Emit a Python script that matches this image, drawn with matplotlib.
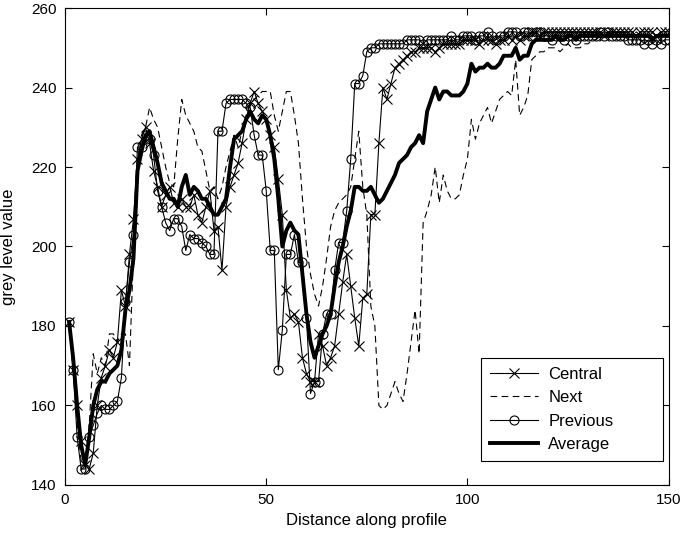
import matplotlib.pyplot as plt
import numpy as np

plt.rcParams['font.family'] = ['Liberation Sans', 'DejaVu Sans']

# distance along profile (pixels)
distance = np.arange(1, 151)

central = [
    181, 169, 160, 151, 145, 144, 148, 160, 167, 170,
    174, 172, 176, 189, 185, 198, 207, 222, 227, 230,
    226, 219, 215, 210, 213, 215, 211, 210, 212, 210,
    210, 213, 208, 206, 210, 214, 204, 205, 194, 210,
    215, 218, 221, 226, 232, 236, 239, 236, 234, 232,
    228, 225, 217, 208, 189, 182, 183, 181, 172, 168,
    166, 166, 178, 175, 170, 172, 175, 183, 191, 198,
    190, 182, 175, 187, 188, 208, 208, 226, 240, 237,
    241, 245, 246, 247, 248, 249, 249, 250, 250, 250,
    250, 249, 250, 251, 251, 251, 251, 251, 252, 252,
    252, 252, 251, 252, 252, 252, 251, 252, 252, 253,
    252, 253, 252, 253, 253, 254, 254, 253, 254, 254,
    254, 254, 254, 254, 254, 254, 254, 254, 254, 254,
    254, 254, 254, 253, 254, 254, 254, 254, 254, 254,
    254, 253, 254, 254, 254, 254, 253, 254, 254, 254,
]

next_line = [
    181, 170, 155, 146, 145, 155, 173, 168, 172, 170,
    178, 178, 176, 178, 178, 170, 198, 220, 228, 230,
    235, 232, 230, 225, 220, 216, 215, 227, 237, 233,
    231, 229, 225, 224, 219, 214, 215, 212, 215, 220,
    224, 228, 225, 229, 233, 236, 237, 238, 239, 239,
    239, 233, 229, 234, 239, 239, 233, 226, 212, 200,
    193, 188, 185, 190, 197, 205, 209, 211, 212, 213,
    215, 222, 229, 215, 208, 185, 180, 160, 159, 160,
    163, 166, 163, 161, 168, 176, 184, 173, 206, 209,
    213, 220, 211, 218, 214, 212, 212, 213, 218, 222,
    232, 227, 231, 233, 235, 231, 234, 237, 238, 239,
    238, 247, 233, 235, 238, 247, 248, 249, 249, 250,
    250, 250, 249, 250, 251, 250, 250, 250, 251, 251,
    252, 252, 253, 253, 253, 253, 253, 253, 253, 253,
    253, 254, 253, 253, 253, 253, 253, 253, 253, 253,
]

previous = [
    181, 169, 152, 144, 144, 152, 155, 158, 160, 159,
    159, 160, 161, 167, 186, 196, 203, 225, 225, 228,
    227, 223, 214, 210, 206, 204, 207, 207, 205, 199,
    203, 202, 202, 201, 200, 198, 198, 229, 229, 236,
    237, 237, 237, 237, 236, 235, 228, 223, 223, 214,
    199, 199, 169, 179, 198, 198, 203, 196, 196, 182,
    163, 166, 166, 178, 183, 183, 194, 201, 201, 209,
    222, 241, 241, 243, 249, 250, 250, 251, 251, 251,
    251, 251, 251, 251, 252, 252, 252, 252, 251, 252,
    252, 252, 252, 252, 252, 253, 252, 252, 253, 253,
    253, 252, 253, 253, 254, 253, 252, 253, 253, 254,
    254, 254, 253, 254, 254, 253, 254, 254, 253, 253,
    252, 253, 253, 252, 253, 253, 252, 253, 253, 253,
    253, 253, 254, 253, 254, 253, 253, 253, 253, 252,
    252, 252, 252, 251, 252, 251, 252, 251, 252, 252,
]

average = [
    181, 172, 160, 150, 145, 152, 160, 164, 166, 166,
    168, 169, 170, 174, 184, 189, 197, 219, 224, 228,
    229, 225, 221, 216, 214, 212, 212, 210, 215, 218,
    213, 215, 214, 212, 212, 210, 208, 208, 210, 212,
    220, 227, 228, 229, 232, 234, 232, 231, 233, 232,
    228, 222, 212, 200, 204, 206, 204, 203, 193, 183,
    176, 172, 175, 178, 180, 183, 190, 196, 200, 205,
    209, 215, 215, 214, 214, 215, 213, 211, 212, 214,
    216, 218, 221, 222, 223, 225, 226, 228, 226, 234,
    237, 240, 237, 239, 239, 238, 238, 238, 239, 241,
    246, 244, 245, 245, 246, 245, 245, 246, 248, 248,
    248, 250, 247, 248, 248, 251, 252, 252, 252, 252,
    252, 253, 252, 252, 253, 253, 252, 253, 253, 253,
    253, 253, 253, 253, 253, 253, 253, 253, 253, 253,
    253, 253, 253, 253, 253, 252, 253, 253, 253, 253,
]

fig = plt.figure(figsize=(6.85, 5.37), dpi=100)
ax = fig.add_axes([0.095, 0.097, 0.881, 0.888])

ax.plot(distance, central, color='black', linewidth=0.8, marker='x',
        markersize=6.5, markeredgewidth=0.8, label='Central')
ax.plot(distance, next_line, color='black', linewidth=0.8, linestyle=(0, (6, 4)),
        label='Next')
ax.plot(distance, previous, color='black', linewidth=0.8, marker='o',
        markersize=6.5, markerfacecolor='none', markeredgewidth=0.8, label='Previous')
ax.plot(distance, average, color='black', linewidth=2.8, label='Average')

ax.set_xlim(0, 150)
ax.set_ylim(140, 260)
ax.set_xticks([0, 50, 100, 150])
ax.set_yticks(np.arange(140, 261, 20))
ax.tick_params(direction='in', top=True, right=True, labelsize=11, length=5, pad=6)
ax.set_xlabel('Distance along profile', fontsize=12, labelpad=4)
ax.set_ylabel('grey level value', fontsize=12, labelpad=11)

# MATLAB-style legend box: fixed width in the lower right corner
leg = ax.legend(loc='lower right', bbox_to_anchor=(0.689, 0.05, 0.302, 0.22),
                mode='expand', borderaxespad=0, fontsize=12,
                handlelength=2.9, handletextpad=0.6, fancybox=False, edgecolor='black',
                framealpha=1, borderpad=0.55, labelspacing=0.5)
leg.get_frame().set_linewidth(0.8)

plt.savefig('out.png', dpi=100)
